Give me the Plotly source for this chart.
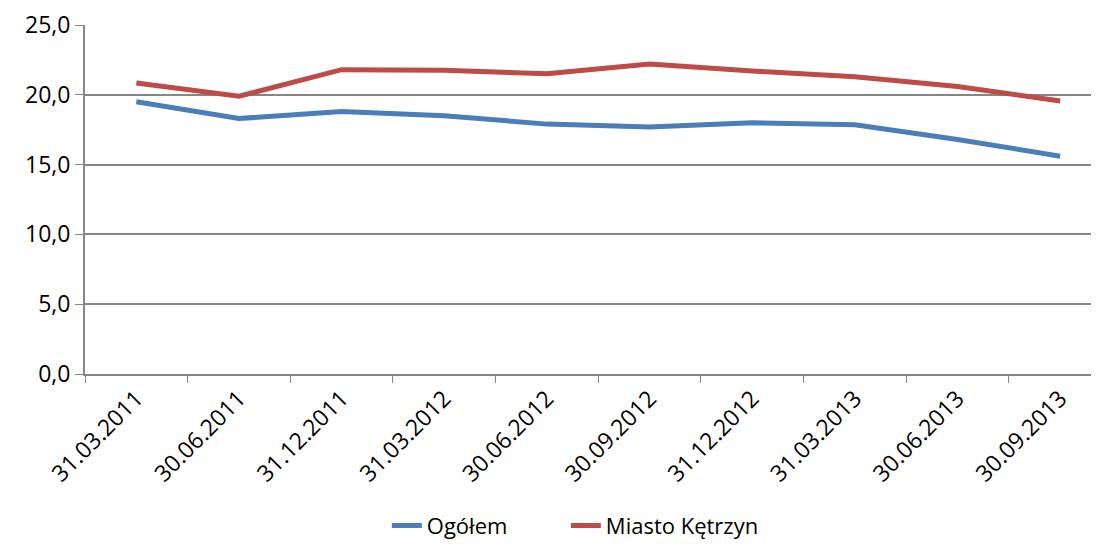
import plotly.graph_objects as go

# dane
daty = ['31.03.2011', '30.06.2011', '31.12.2011', '31.03.2012', '30.06.2012',
        '30.09.2012', '31.12.2012', '31.03.2013', '30.06.2013', '30.09.2013']
ogolem = [19.5, 18.3, 18.8, 18.5, 17.9, 17.7, 18.0, 17.85, 16.8, 15.6]
ketrzyn = [20.85, 19.9, 21.8, 21.75, 21.5, 22.2, 21.7, 21.3, 20.6, 19.55]

fig = go.Figure()
fig.add_trace(go.Scatter(x=daty, y=ogolem, mode='lines', name='Ogółem',
                         line=dict(color='#4A7EBB', width=5), legend='legend'))
fig.add_trace(go.Scatter(x=daty, y=ketrzyn, mode='lines', name='Miasto Kętrzyn',
                         line=dict(color='#BE4B48', width=5), legend='legend2'))

# strona ma 8px marginesu, wiec figura mniejsza zeby nie skalowalo
fig.update_layout(
    width=1083, height=539,
    margin=dict(l=77, r=0, t=17, b=163),
    paper_bgcolor='white', plot_bgcolor='white',
    separators=',.',
    showlegend=True,
    font=dict(family='Open Sans, Noto Sans, sans-serif', size=22, color='black'),
    xaxis=dict(
        type='category', range=[-0.5, 9.3], automargin=False,
        showgrid=False, showline=True, linecolor='#868686', linewidth=2,
        ticks='outside', ticklen=7, tickcolor='#868686', tickwidth=1,
        tickson='boundaries', tickangle=-45, tickfont=dict(size=23),
    ),
    yaxis=dict(
        range=[0, 25], dtick=5, tickformat='.1f', automargin=False,
        showgrid=True, gridcolor='#868686', gridwidth=1.5,
        showline=True, linecolor='#868686', linewidth=2,
        ticks='outside', ticklen=8, tickcolor='#868686',
        zeroline=False, tickfont=dict(size=23),
    ),
    legend=dict(orientation='h', x=0.30, xanchor='left', y=-0.435, yanchor='middle',
                font=dict(size=22)),
    legend2=dict(orientation='h', x=0.478, xanchor='left', y=-0.435, yanchor='middle',
                 font=dict(size=22)),
)

fig.write_html("out.html")
